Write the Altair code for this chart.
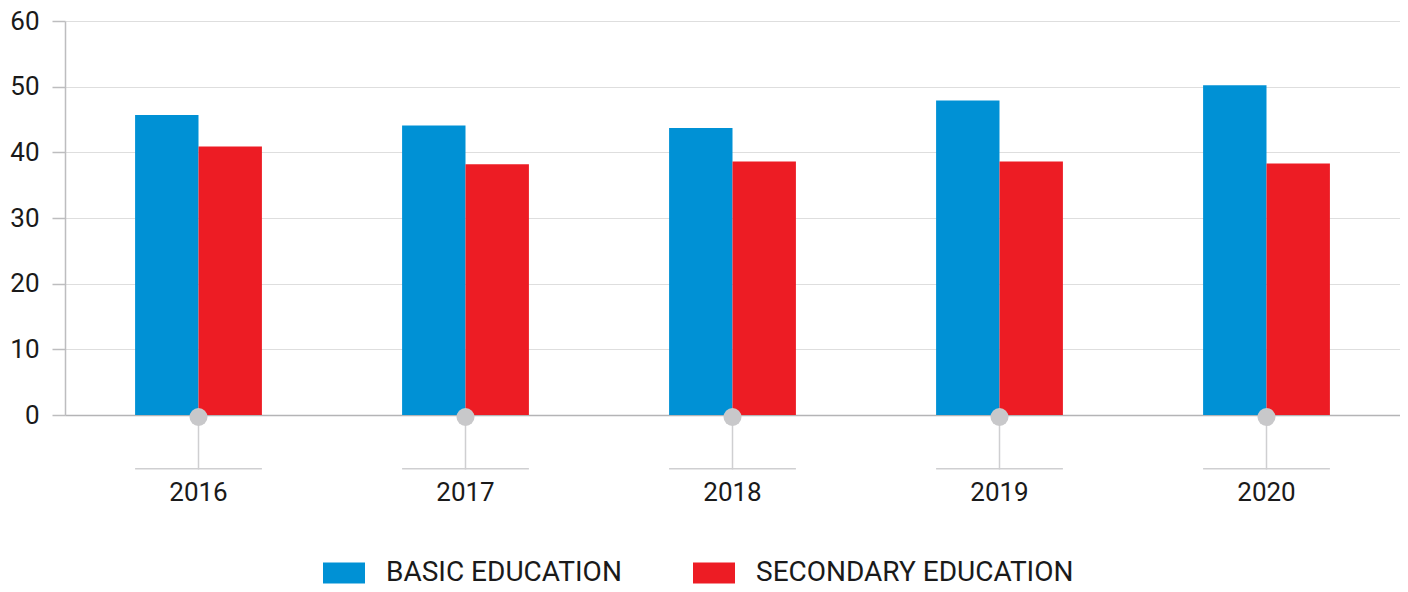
import altair as alt
import pandas as pd

years = ["2016", "2017", "2018", "2019", "2020"]
basic = [45.7, 44.1, 43.7, 47.9, 50.2]
secondary = [40.9, 38.2, 38.6, 38.6, 38.3]
series = ["BASIC EDUCATION", "SECONDARY EDUCATION"]
colors = ["#0091d5", "#ed1c24"]
y_ticks = [0, 10, 20, 30, 40, 50, 60]

rows = []
for i, yr in enumerate(years):
    rows.append({"year": yr, "series": series[0], "value": basic[i]})
    rows.append({"year": yr, "series": series[1], "value": secondary[i]})
df = pd.DataFrame(rows)
yd = pd.DataFrame({"year": years, "zero": [0] * len(years)})

FONT = "Roboto"
W, H = 1335, 394

xscale = alt.Scale(domain=years, paddingInner=0.525, paddingOuter=0.2625)
yscale = alt.Scale(domain=[0, 60], nice=False)

bars = alt.Chart(df).mark_bar().encode(
    x=alt.X("year:N", scale=xscale, sort=years,
            axis=alt.Axis(title=None, labelAngle=0, domain=True, domainColor="#b4b4b6",
                          domainWidth=1.5, ticks=True, tickSize=54, tickColor="#cfcfd1",
                          tickWidth=1.5, labelPadding=10, labelFontSize=26,
                          labelFont=FONT, labelColor="#1a1a1a")),
    xOffset=alt.XOffset("series:N", sort=series),
    y=alt.Y("value:Q", scale=yscale,
            axis=alt.Axis(title=None, values=y_ticks, grid=True, gridColor="#dedede",
                          gridWidth=1.2, domain=True, domainColor="#bdbdbf", domainWidth=1.5,
                          tickSize=13, tickColor="#bdbdbf", tickWidth=1.5,
                          labelPadding=13, labelFontSize=26, labelFont=FONT,
                          labelColor="#1a1a1a")),
    color=alt.Color("series:N", sort=series,
                    scale=alt.Scale(domain=series, range=colors),
                    legend=alt.Legend(title=None, orient="none", legendX=258, legendY=531,
                                      direction="horizontal",
                                      symbolType="M-1,-0.5L1,-0.5L1,0.5L-1,0.5Z",
                                      symbolSize=1764, symbolStrokeWidth=0,
                                      labelFont=FONT, labelFontSize=28, labelColor="#1a1a1a",
                                      labelOffset=21, columnPadding=71, labelLimit=500)),
)

underline = alt.Chart(yd).mark_bar(color="#cfcfd1").encode(
    x=alt.X("year:N", scale=xscale, sort=years),
    y=alt.value(H + 53),
    y2=alt.value(H + 54.5),
)

dots = alt.Chart(yd).mark_point(filled=True, shape="circle", size=324, yOffset=2,
                                color="#c8c8ca", opacity=1).encode(
    x=alt.X("year:N", scale=xscale, sort=years),
    y=alt.Y("zero:Q", scale=yscale),
)

chart = alt.layer(bars, underline, dots).properties(
    width=W, height=H,
    autosize=alt.AutoSizeParams(type="none"),
    padding={"left": 57, "top": 13, "right": 0, "bottom": 169},
).configure_view(stroke=None)

chart.save("out.html", embed_options={"renderer": "svg", "actions": False})
